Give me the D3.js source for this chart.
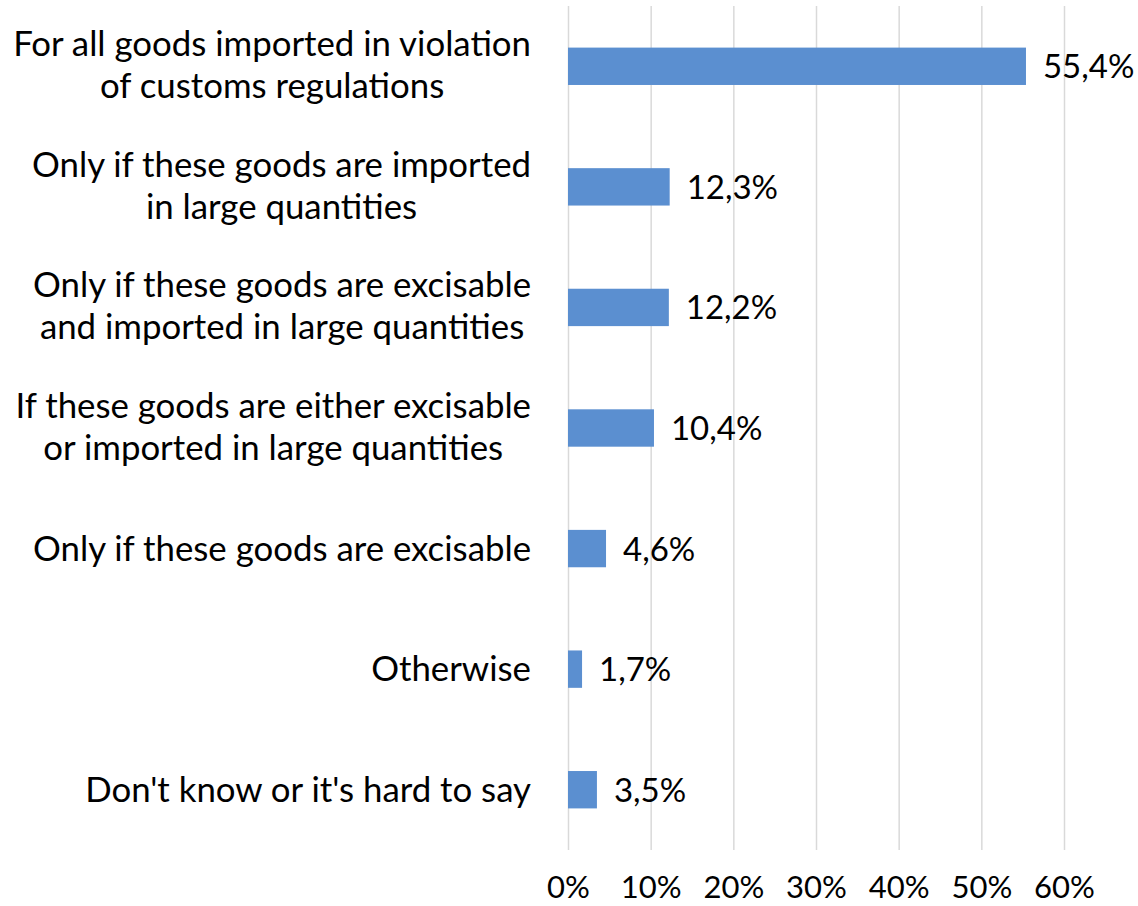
<!DOCTYPE html>
<html>
   <head>
      <meta charset="utf-8" />
      <script src="https://cdn.jsdelivr.net/npm/d3@7/dist/d3.min.js"></script>
   </head>
   <style>
      body {
         margin: 0px;
         overflow: hidden;
         background: #fff;
      }

      text {
         font-family: Lato, "Open Sans", sans-serif;
         fill: #000;
      }

      .grid line {
         stroke: #d9d9d9;
         stroke-width: 1.5;
      }

      .bar {
         fill: #5b8fd0;
      }
   </style>
   <body>
      <svg width="1138" height="906"></svg>
      <script>
         // chart data
         const categories = [
            ["For all goods imported in violation", "of customs regulations"],
            ["Only if these goods are imported", "in large quantities"],
            ["Only if these goods are excisable", "and imported in large quantities"],
            ["If these goods are either excisable", "or imported in large quantities"],
            ["Only if these goods are excisable"],
            ["Otherwise"],
            ["Don't know or it's hard to say"]
         ];
         const values = [55.4, 12.3, 12.2, 10.4, 4.6, 1.7, 3.5];
         const tickValues = [0, 10, 20, 30, 40, 50, 60];
         const tickLabels = ["0%", "10%", "20%", "30%", "40%", "50%", "60%"];

         const labelSize = 34.8, valueSize = 33, tickSize = 31;
         const svg = d3.select("svg");

         const plotTop = 6, plotBottom = 850;
         const plotLeft = 568, plotRight = 1064;
         const labelRight = 531;

         const x = d3.scaleLinear().domain([0, 60]).range([plotLeft, plotRight]);
         const y = d3.scaleBand()
            .domain(d3.range(categories.length))
            .range([plotTop, plotBottom])
            .paddingInner(0.69)
            .paddingOuter(0.345);

         // gridlines + tick labels
         const xAxis = d3.axisBottom(x)
            .tickValues(tickValues)
            .tickFormat((d, i) => tickLabels[i])
            .tickSize(-(plotBottom - plotTop));

         const gx = svg.append("g")
            .attr("class", "grid")
            .attr("transform", `translate(0,${plotBottom})`)
            .call(xAxis);
         gx.select(".domain").remove();
         gx.selectAll("text")
            .attr("y", 48)
            .attr("dy", 0)
            .style("font-size", tickSize + "px")
            .style("font-family", "Lato, 'Open Sans', sans-serif")
            .attr("fill", "#000");

         // bars
         svg.selectAll("rect.bar")
            .data(values)
            .enter()
            .append("rect")
            .attr("class", "bar")
            .attr("x", x(0))
            .attr("y", (d, i) => y(i))
            .attr("width", (d) => x(d) - x(0))
            .attr("height", y.bandwidth());

         // value labels
         svg.selectAll("text.value")
            .data(values)
            .enter()
            .append("text")
            .attr("class", "value")
            .attr("x", (d) => x(d) + 17)
            .attr("y", (d, i) => y(i) + y.bandwidth() / 2 + 12)
            .style("font-size", valueSize + "px")
            .text((d) => d.toFixed(1).replace(".", ",") + "%");

         // category labels, lines centred within a right aligned block
         categories.forEach((lines, i) => {
            const cy = y(i) + y.bandwidth() / 2;
            const g = svg.append("g").attr("class", "category");
            const t = g.append("text")
               .style("font-size", labelSize + "px")
               .attr("text-anchor", "middle");
            const offsets = lines.length === 1 ? [12] : [-10, 32];
            const spans = lines.map((line, j) =>
               t.append("tspan").attr("y", cy + offsets[j]).text(line)
            );
            const widths = spans.map((s) => s.node().getComputedTextLength());
            const w = d3.max(widths);
            spans.forEach((s) => s.attr("x", labelRight - w / 2));
         });
      </script>
   </body>
</html>
